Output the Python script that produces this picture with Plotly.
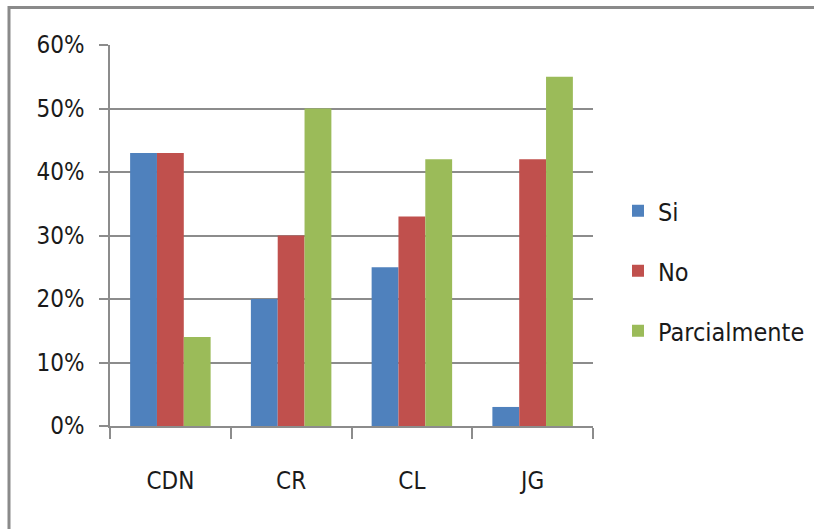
import plotly.graph_objects as go

# Survey answers per group, as fractions
categories = ["CDN", "CR", "CL", "JG"]
series_names = ["Si", "No", "Parcialmente"]
si_values = [0.43, 0.20, 0.25, 0.03]
no_values = [0.43, 0.30, 0.33, 0.42]
parcial_values = [0.14, 0.50, 0.42, 0.55]
series_colors = ["#4F81BD", "#C0504D", "#9BBB59"]
y_ticks = [0.0, 0.1, 0.2, 0.3, 0.4, 0.5, 0.6]
y_tick_labels = ["0%", "10%", "20%", "30%", "40%", "50%", "60%"]

FONT = "Liberation Sans Narrow, Arial Narrow, DejaVu Sans Condensed, sans-serif"
TEXT = "#1a1a1a"
GRID = "#8c8c8c"

fig = go.Figure()
for name, vals, col in zip(series_names,
                           [si_values, no_values, parcial_values],
                           series_colors):
    fig.add_trace(go.Bar(
        x=categories, y=vals, name=name,
        marker=dict(color=col, line=dict(width=0)),
        legendgroup=name,
    ))

# Plot area geometry (pixels) used for the outer frame lines
W, H = 814, 529
L, R, T, B = 110, 221, 45, 103
pw, ph = W - L - R, H - T - B

def px_x(x):
    return (x - L) / pw

def px_y(y):
    return (H - B - y) / ph

frame = "#8a8a8a"
shapes = [
    dict(type="line", xref="paper", yref="paper",
         x0=px_x(8), x1=px_x(W + 2), y0=px_y(7.5), y1=px_y(7.5),
         line=dict(color=frame, width=3)),
    dict(type="line", xref="paper", yref="paper",
         x0=px_x(9), x1=px_x(9), y0=px_y(6), y1=px_y(H + 2),
         line=dict(color=frame, width=3)),
]

fig.update_layout(
    width=W, height=H,
    margin=dict(l=L, r=R, t=T, b=B, pad=0, autoexpand=False),
    paper_bgcolor="white", plot_bgcolor="white",
    font=dict(family=FONT, size=24, color=TEXT),
    barmode="group",
    bargap=1/3, bargroupgap=0,
    showlegend=True,
    legend=dict(
        x=px_x(618), y=px_y(188), xanchor="left", yanchor="top",
        font=dict(family=FONT, size=25, color=TEXT),
        tracegroupgap=24.5, itemwidth=30,
        bgcolor="rgba(0,0,0,0)",
    ),
    shapes=shapes,
    xaxis=dict(
        type="category",
        showline=True, linecolor=GRID, linewidth=1.5,
        ticks="outside", tickson="boundaries", ticklen=11,
        tickcolor=GRID, tickwidth=1.5,
        ticklabelstandoff=32,
        showgrid=False,
        tickfont=dict(family=FONT, size=24, color=TEXT),
    ),
    yaxis=dict(
        range=[0, 0.6],
        tickvals=y_ticks, ticktext=y_tick_labels,
        showline=True, linecolor=GRID, linewidth=1.5,
        ticks="outside", ticklen=9, tickcolor=GRID, tickwidth=1.5,
        ticklabelstandoff=10,
        showgrid=True, gridcolor=GRID, gridwidth=1.5,
        zeroline=False,
        tickfont=dict(family=FONT, size=24, color=TEXT),
    ),
)

fig.write_html("out.html")
